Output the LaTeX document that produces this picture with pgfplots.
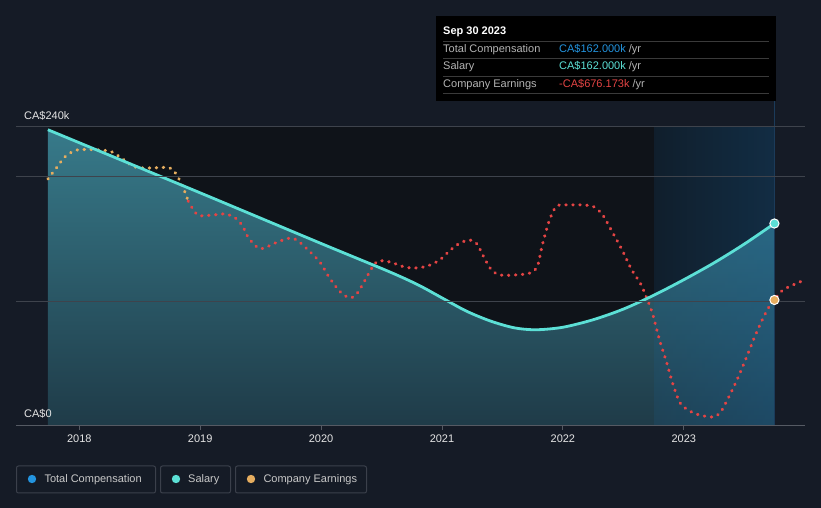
\documentclass[border=0pt]{standalone}
\usepackage{fontspec}
\setmainfont{Liberation Sans}
\usepackage{pgfplots}
\pgfplotsset{compat=1.18}
\usetikzlibrary{fadings}

\definecolor{bg}{HTML}{151B26}
\definecolor{plotbg}{HTML}{0F1319}
\definecolor{gridc}{HTML}{3E434C}
\definecolor{axisc}{HTML}{555A63}
\definecolor{salary}{HTML}{5CE0D6}
\definecolor{totalc}{HTML}{2394DF}
\definecolor{earnO}{HTML}{E6AD5F}
\definecolor{earnR}{HTML}{E44444}
\definecolor{fillTop}{HTML}{377A8A}
\definecolor{fillBot}{HTML}{1F3B48}
\definecolor{hilite}{HTML}{1A6AA8}
\definecolor{hiedge}{HTML}{1B3B5A}
\definecolor{sepc}{HTML}{3A3A3A}
\definecolor{lblgray}{HTML}{B4B4B4}
\definecolor{leggray}{HTML}{C8C8C8}
\definecolor{boxc}{HTML}{3B404B}

\tikzfading[name=fromleft, left color=transparent!55, right color=transparent!0]

\pgfplotstableread{
year k
2017.74 237
2019.00 186.5
2020.00 146
2020.55 124
2020.80 113
2021.00 102.5
2021.20 92
2021.40 84
2021.60 78.5
2021.78 77
2022.00 79
2022.25 85
2022.50 93.5
2022.75 104.5
2023.00 117
2023.25 130.5
2023.50 145.5
2023.75 162
}\salary

\pgfplotstableread{
year k
2017.74 197.6
2017.81 206.4
2017.88 215.2
2017.98 220.8
2018.16 220.8
2018.27 219.2
2018.37 212.8
2018.46 207.2
2018.58 206.4
2018.75 206.4
2018.82 198.4
2018.87 188
2018.90 180
}\earnpos

\pgfplotstableread{
year k
2018.90 180
2018.98 168.8
2019.10 168.8
2019.21 169.6
2019.29 166.4
2019.35 160
2019.40 150.4
2019.48 142.4
2019.53 142.4
2019.64 147.2
2019.75 150.4
2019.82 147.2
2019.91 139.2
2019.99 131.2
2020.07 118.4
2020.16 107.2
2020.24 102.4
2020.30 106.4
2020.35 114.4
2020.42 126.4
2020.47 132
2020.57 131.2
2020.69 127.2
2020.78 126.4
2020.88 128
2020.98 132.8
2021.07 140.8
2021.15 146.4
2021.23 148.8
2021.29 145.6
2021.35 134.4
2021.41 124.8
2021.48 120.8
2021.60 120.8
2021.73 122.4
2021.79 128
2021.83 144.8
2021.89 164.8
2021.95 176
2022.06 176.8
2022.18 176.8
2022.26 175.2
2022.33 168.8
2022.40 156.8
2022.49 140.8
2022.57 124.8
2022.64 114.4
2022.69 103.2
2022.74 90.4
2022.80 68.8
2022.86 50.4
2022.91 33.6
2022.97 18.4
2023.05 12
2023.13 8.8
2023.24 7.2
2023.30 10.4
2023.36 20.8
2023.44 36.8
2023.52 55.2
2023.60 74.4
2023.69 92.8
2023.75 100.8
2023.82 108.8
2023.96 115.2
2024.00 116.8
}\earnneg

\begin{document}
\begin{tikzpicture}[x=1pt,y=1pt]
\fill[bg] (0pt,0pt) rectangle (821pt,508pt);
\begin{axis}[
  at={(16pt,82pt)}, anchor=south west,
  scale only axis, width=789pt, height=300pt,
  xmin=2017.476, xmax=2024.003, ymin=0, ymax=240,
  axis line style={draw=none},
  axis on top,
  clip=false,
  ytick={100,200,240}, yticklabels={},
  ymajorgrids, grid style={gridc, line width=0.9pt},
  major y tick style={draw=none},
  xtick={2018,2019,2020,2021,2022,2023},
  xtick pos=bottom, tick align=outside,
  major tick length=4pt,
  major x tick style={axisc, line width=0.9pt},
  xticklabel style={font=\fontsize{11}{13}\selectfont, text=white!90!black, yshift=-1pt},
  /pgf/number format/1000 sep={},
  /pgf/number format/assume math mode=true,
]
\fill[plotbg] (axis cs:2017.74,0) rectangle (axis cs:2023.75,240);
\addplot[draw=none, top color=fillTop, bottom color=fillBot, smooth, tension=0.5] table[x=year,y=k] {\salary} \closedcycle;
\fill[hilite, fill opacity=0.3, path fading=fromleft] (axis cs:2022.75,0) rectangle (axis cs:2023.75,240);
\draw[hiedge, line width=1.5pt] (axis cs:2023.75,260) -- (axis cs:2023.75,0);
\draw[axisc, line width=1pt] (axis cs:2017.476,0) -- (axis cs:2024.003,0);
\addplot[earnO, line width=3.1pt, line cap=round, dash pattern=on 0.5pt off 6.5pt, smooth, tension=0.5] table[x=year,y=k] {\earnpos};
\addplot[earnR, line width=3.1pt, line cap=round, dash pattern=on 0.5pt off 6.5pt, smooth, tension=0.5] table[x=year,y=k] {\earnneg};
\addplot[salary, line width=2.8pt, smooth, tension=0.5] table[x=year,y=k] {\salary};
\addplot[only marks, mark=*, mark size=4.6pt, mark options={fill=salary, draw=white, line width=1pt}] coordinates {(2023.75,162)};
\addplot[only marks, mark=*, mark size=4.6pt, mark options={fill=earnO, draw=white, line width=1pt}] coordinates {(2023.75,100.8)};
\end{axis}

% value labels of the y axis
\node[anchor=base west, inner sep=0, text=white!90!black, font=\fontsize{11}{13}\selectfont] at (24pt,388pt) {CA\$240k};
\node[anchor=base west, inner sep=0, text=white!90!black, font=\fontsize{11}{13}\selectfont] at (24pt,90pt) {CA\$0};

% tooltip
\fill[black] (436pt,492pt) rectangle (776pt,407pt);
\foreach \yy in {467,450,432,415} \draw[sepc, line width=0.8pt] (443pt,\yy pt) -- (769pt,\yy pt);
\begin{scope}[every node/.style={anchor=base west, inner sep=0, font=\fontsize{11}{13}\selectfont}]
\node[text=white, font=\fontsize{11}{13}\selectfont\bfseries] at (443pt,473pt) {Sep 30 2023};
\node[text=lblgray] at (443pt,455pt) {Total Compensation};
\node[text=lblgray] at (443pt,438pt) {Salary};
\node[text=lblgray] at (443pt,420pt) {Company Earnings};
\node at (559pt,455pt) {\textcolor{totalc}{CA\$162.000k}\ \textcolor{lblgray}{/yr}};
\node at (559pt,438pt) {\textcolor{salary}{CA\$162.000k}\ \textcolor{lblgray}{/yr}};
\node at (559pt,420pt) {\textcolor{earnR}{-CA\$676.173k}\ \textcolor{lblgray}{/yr}};
\end{scope}

% legend
\draw[boxc, line width=1pt, rounded corners=2pt] (16.5pt,42pt) rectangle (155.5pt,15pt);
\draw[boxc, line width=1pt, rounded corners=2pt] (160.5pt,42pt) rectangle (230.5pt,15pt);
\draw[boxc, line width=1pt, rounded corners=2pt] (235.5pt,42pt) rectangle (366.5pt,15pt);
\fill[totalc] (32pt,29pt) circle (4.2pt);
\fill[salary] (176pt,29pt) circle (4.2pt);
\fill[earnO] (251pt,29pt) circle (4.2pt);
\begin{scope}[every node/.style={anchor=base west, inner sep=0, text=leggray, font=\fontsize{11}{13}\selectfont}]
\node at (44.3pt,25pt) {Total Compensation};
\node at (188pt,25pt) {Salary};
\node at (263.3pt,25pt) {Company Earnings};
\end{scope}
\end{tikzpicture}
\end{document}
